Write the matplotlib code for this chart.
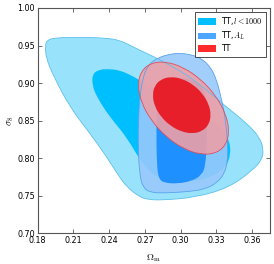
import numpy as np
import matplotlib
matplotlib.use("Agg")
import matplotlib.pyplot as plt
from matplotlib.path import Path
from matplotlib.patches import PathPatch, Patch

plt.rcParams["mathtext.fontset"] = "cm"

# contour vertices (Omega_m, sigma_8)
tt_l1000_95_x = [0.1864, 0.1878, 0.1945, 0.2154, 0.2364, 0.2490, 0.2599, 0.2909, 0.3160,
                 0.3386, 0.3554, 0.3663, 0.3697, 0.3680, 0.3604, 0.3412, 0.3135, 0.2850,
                 0.2724, 0.2657, 0.2548, 0.2465, 0.2381, 0.2238, 0.2071, 0.1937, 0.1870]
tt_l1000_95_y = [0.9504, 0.9571, 0.9604, 0.9611, 0.9601, 0.9571, 0.9482, 0.9250, 0.8990,
                 0.8679, 0.8466, 0.8280, 0.8107, 0.7974, 0.7841, 0.7614, 0.7481, 0.7441,
                 0.7450, 0.7483, 0.7614, 0.7800, 0.8013, 0.8332, 0.8678, 0.9079, 0.9332]

tt_l1000_68_x = [0.2263, 0.2322, 0.2381, 0.2490, 0.2599, 0.2741, 0.2951, 0.3160, 0.3344, 0.3411,
                 0.3420, 0.3378, 0.3261, 0.3076, 0.2825, 0.2683, 0.2548, 0.2406, 0.2297, 0.2255]
tt_l1000_68_y = [0.9132, 0.9179, 0.9189, 0.9172, 0.9092, 0.8959, 0.8772, 0.8599, 0.8412, 0.8239,
                 0.8039, 0.7880, 0.7746, 0.7682, 0.7708, 0.7907, 0.8280, 0.8546, 0.8812, 0.8985]

tt_al_95_x = [0.2724, 0.2808, 0.2909, 0.2992, 0.3093, 0.3177, 0.3252, 0.3303, 0.3345, 0.3378, 0.3395, 0.3395,
              0.3370, 0.3303, 0.3202, 0.3076, 0.2867, 0.2741, 0.2682, 0.2657, 0.2643, 0.2645, 0.2657, 0.2682]
tt_al_95_y = [0.9238, 0.9338, 0.9385, 0.9398, 0.9378, 0.9325, 0.9212, 0.9039, 0.8773, 0.8507, 0.8174, 0.7974,
              0.7801, 0.7668, 0.7588, 0.7556, 0.7536, 0.7543, 0.7616, 0.7776, 0.8108, 0.8507, 0.8813, 0.9066]

tt_al_68_x = [0.2800, 0.2825, 0.2892, 0.2992, 0.3118, 0.3202, 0.3227, 0.3219,
              0.3210, 0.3177, 0.3093, 0.2976, 0.2867, 0.2816, 0.2800, 0.2796]
tt_al_68_y = [0.8773, 0.8959, 0.9052, 0.9079, 0.9039, 0.8906, 0.8640, 0.8241,
              0.7908, 0.7775, 0.7695, 0.7662, 0.7669, 0.7722, 0.7908, 0.8374]

tt_95_x = [0.3409, 0.3380, 0.3296, 0.3171, 0.3024, 0.2877, 0.2752, 0.2668,
           0.2639, 0.2668, 0.2752, 0.2877, 0.3024, 0.3171, 0.3296, 0.3380]
tt_95_y = [0.8357, 0.8173, 0.8064, 0.8047, 0.8124, 0.8284, 0.8502, 0.8746,
           0.8977, 0.9161, 0.9270, 0.9287, 0.9210, 0.9050, 0.8832, 0.8588]

tt_68_x = [0.3255, 0.3237, 0.3183, 0.3103, 0.3009, 0.2915, 0.2835, 0.2781,
           0.2763, 0.2781, 0.2835, 0.2915, 0.3009, 0.3103, 0.3183, 0.3237]
tt_68_y = [0.8573, 0.8447, 0.8361, 0.8327, 0.8351, 0.8429, 0.8549, 0.8693,
           0.8839, 0.8965, 0.9051, 0.9085, 0.9061, 0.8983, 0.8863, 0.8719]

labels = ["TT,$l<1000$", "TT,$A_L$", "TT"]
xticks = [0.18, 0.21, 0.24, 0.27, 0.30, 0.33, 0.36]
yticks = [0.70, 0.75, 0.80, 0.85, 0.90, 0.95, 1.00]


def smooth_path(xs, ys):
    # closed quadratic b-spline through the vertex midpoints
    pts = np.column_stack([xs, ys])
    mids = 0.5 * (pts + np.roll(pts, -1, axis=0))
    verts = [mids[-1]]
    codes = [Path.MOVETO]
    for i in range(len(pts)):
        verts += [pts[i], mids[i]]
        codes += [Path.CURVE3, Path.CURVE3]
    return Path(verts, codes)


fig = plt.figure(figsize=(2.74, 2.64), dpi=100)
ax = fig.add_axes([0.1376, 0.1163, 0.8478, 0.8534])

p_c95 = smooth_path(tt_l1000_95_x, tt_l1000_95_y)
p_c68 = smooth_path(tt_l1000_68_x, tt_l1000_68_y)
p_b95 = smooth_path(tt_al_95_x, tt_al_95_y)
p_b68 = smooth_path(tt_al_68_x, tt_al_68_y)
p_r95 = smooth_path(tt_95_x, tt_95_y)
p_r68 = smooth_path(tt_68_x, tt_68_y)

ax.add_patch(PathPatch(p_c95, facecolor="#99e2fb", edgecolor="none", zorder=1))
ax.add_patch(PathPatch(p_c68, facecolor="#00bfff", edgecolor="none", zorder=1.1))
ax.add_patch(PathPatch(p_b95, facecolor="#98c9fb", alpha=0.9, edgecolor="none", zorder=1.2))
ax.add_patch(PathPatch(p_b68, facecolor="#1e90ff", edgecolor="none", zorder=1.3))
ax.add_patch(PathPatch(p_r95, facecolor="#eda0a8", alpha=0.9, edgecolor="none", zorder=1.4))
ax.add_patch(PathPatch(p_r68, facecolor="#e8141f", alpha=0.92, edgecolor="none", zorder=1.5))

# contour outlines on top
ax.add_patch(PathPatch(p_c95, facecolor="none", edgecolor="#5cc0ec", lw=0.6, zorder=2))
ax.add_patch(PathPatch(p_b95, facecolor="none", edgecolor="#5aa2ea", lw=0.6, zorder=2))
ax.add_patch(PathPatch(p_r95, facecolor="none", edgecolor="#dd4f5c", lw=0.6, zorder=2))

ax.set_xlim(0.18, 0.375)
ax.set_ylim(0.70, 1.00)
ax.set_xticks(xticks)
ax.set_yticks(yticks)
ax.set_xticklabels(["%.2f" % t for t in xticks])
ax.set_yticklabels(["%.2f" % t for t in yticks])
ax.tick_params(direction="in", top=True, right=True, labelsize=5.8, length=3, width=0.6,
               color="#555555", pad=2)
for s in ax.spines.values():
    s.set_color("#555555")
    s.set_linewidth(0.8)

ax.set_xlabel(r"$\Omega_{\rm m}$", fontsize=7, labelpad=5)
ax.set_ylabel(r"$\sigma_8$", fontsize=7, labelpad=1)

handles = [Patch(facecolor="#00bfff", edgecolor="none"),
           Patch(facecolor="#4da6ff", edgecolor="none"),
           Patch(facecolor="#ff2a2a", edgecolor="none")]
leg = ax.legend(handles, labels, loc="upper right", fontsize=5.8, fancybox=False,
                framealpha=1, edgecolor="#333333", borderpad=0.4, labelspacing=0.3,
                handlelength=2.2, handleheight=0.9, handletextpad=0.6,
                borderaxespad=0.5)
leg.set_zorder(5)
leg.get_frame().set_linewidth(0.6)

fig.savefig("out.png", dpi=100)
